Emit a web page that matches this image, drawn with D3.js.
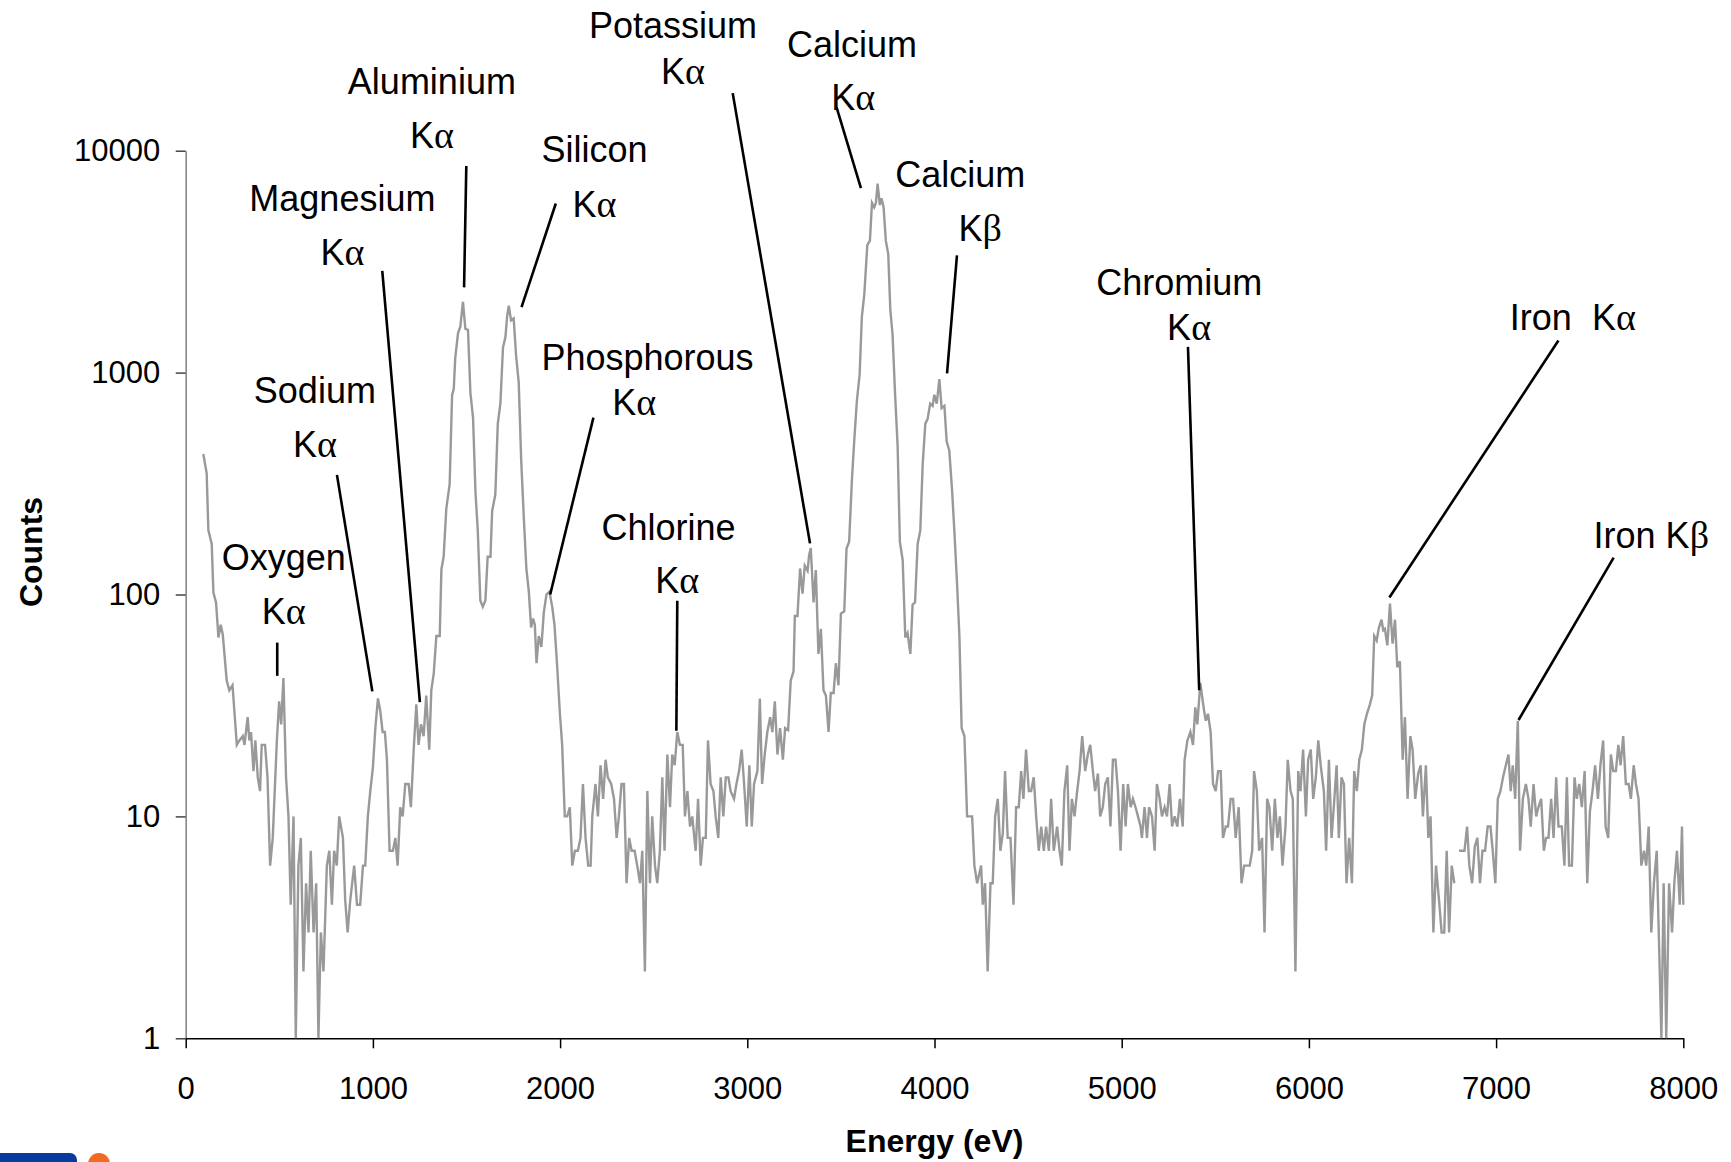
<!DOCTYPE html>
<html><head><meta charset="utf-8">
<script src="https://cdn.jsdelivr.net/npm/d3@7"></script>
<style>
body{margin:0;background:#fff}
svg{display:block}
</style></head><body>
<svg id="c" width="1731" height="1162"></svg>
<script>
// ---- data ----
const energyEV = [
94,112,121,139,148,162,175,187,198,219,
233,250,273,287,305,314,331,340,349,362,
372,385,397,406,424,437,451,465,487,499,
510,522,536,549,561,576,588,602,615,629,
643,656,668,683,697,709,722,736,754,767,
781,793,807,820,840,852,865,879,900,915,
932,947,959,973,986,1000,1013,1027,1039,1052,
1064,1075,1089,1107,1120,1132,1146,1159,1173,1191,
1203,1218,1232,1244,1257,1271,1285,1301,1312,1325,
1339,1357,1366,1378,1392,1410,1423,1432,1440,1455,
1467,1481,1494,1508,1521,1535,1548,1560,1574,1587,
1601,1613,1628,1637,1654,1667,1681,1695,1708,1717,
1726,1738,1752,1765,1779,1792,1806,1820,1833,1845,
1856,1865,1874,1886,1900,1913,1927,1943,1958,1970,
1984,1999,2011,2025,2038,2052,2065,2079,2095,2109,
2122,2136,2150,2163,2172,2189,2202,2216,2230,2243,
2255,2273,2288,2302,2314,2328,2341,2355,2369,2382,
2398,2412,2427,2439,2453,2466,2480,2492,2507,2519,
2533,2546,2558,2573,2587,2599,2612,2626,2640,2655,
2667,2680,2694,2706,2724,2737,2751,2763,2778,2790,
2804,2819,2831,2845,2858,2872,2885,2899,2911,2929,
2942,2956,2970,2983,2997,3011,3024,3036,3054,3067,
3079,3093,3107,3122,3134,3147,3161,3175,3190,3202,
3218,3232,3247,3254,3268,3282,3295,3307,3322,3330,
3339,3354,3366,3380,3393,3407,3420,3434,3446,3461,
3473,3487,3500,3518,3530,3544,3559,3571,3585,3600,
3612,3625,3641,3655,3666,3678,3687,3696,3708,3717,
3728,3740,3753,3764,3776,3789,3803,3815,3830,3844,
3856,3871,3883,3896,3910,3924,3937,3951,3963,3977,
3990,3999,4012,4026,4038,4053,4065,4079,4094,4106,
4120,4133,4145,4160,4174,4201,4213,4228,4249,4258,
4270,4284,4299,4311,4324,4338,4352,4365,4377,4391,
4406,4422,4436,4450,4463,4475,4489,4504,4516,4530,
4543,4557,4570,4584,4596,4611,4623,4637,4655,4668,
4680,4694,4709,4721,4734,4748,4762,4775,4789,4805,
4819,4832,4846,4858,4873,4885,4899,4912,4926,4940,
4953,4967,4980,4994,5008,5021,5033,5048,5060,5074,
5087,5101,5108,5122,5135,5146,5162,5176,5188,5203,
5215,5229,5242,5256,5269,5283,5297,5311,5326,5336,
5351,5367,5381,5393,5404,5420,5429,5440,5449,5461,
5475,5488,5502,5515,5529,5541,5556,5568,5582,5595,
5609,5625,5640,5654,5670,5684,5697,5707,5722,5734,
5750,5763,5777,5789,5804,5818,5832,5845,5859,5875,
5887,5902,5914,5928,5943,5955,5969,5984,5996,6010,
6023,6037,6050,6064,6080,6092,6107,6121,6133,6148,
6160,6174,6187,6201,6215,6230,6242,6256,6269,6283,
6296,6310,6326,6338,6349,6362,6374,6388,6397,6406,
6419,6433,6447,6460,6472,6486,6501,6513,6527,6542,
6554,6568,6584,6597,6609,6625,6638,6650,6665,6679,
6695,6709,6723,6736,6749,6763,6777,6790,6802,6816,
6831,6845,6857,6872,6886,6900,6914,6927,6941,6955,
6970,6982,6996,7009,7023,7037,7052,7066,7078,7089,
7102,7116,7128,7143,7159,7173,7185,7200,7214,7226,
7241,7255,7267,7280,7294,7307,7321,7333,7351,7365,
7378,7390,7405,7419,7431,7444,7458,7473,7487,7501,
7515,7529,7544,7558,7572,7585,7599,7613,7626,7640,
7653,7665,7679,7693,7708,7720,7735,7747,7761,7776,
7790,7802,7815,7829,7843,7858,7883,7895,7909,7924,
7940,7952,7966,7981,7993,8000];

const counts = [
430,352,195,169,102,92,64,73,66,41,
37,39,21,22,23,21,28,22,24,16,
22,15,13,21,21,15,6,8,22,33,
26,42,15,10,4,10,1,6,8,2,
5,3,7,3,5,1,3,2,6,7,
4,7,6,10,8,4.2,3,4.2,6,4,
4,6,6,10,13,16.6,25,34,30,24,
24,18,7,7,8,6,11,10,14,14,
11,20,32,21,26,23,35,20,37,44,
65,65,130,148,243,314,792,845,1167,1510,
1610,2085,1578,1556,809,625,288,196,94,88,
94,148,148,238,282,586,727,1300,1447,1794,
2000,1720,1754,1191,901,407,223,130,103,71,
78,73,49,65,58,83,100,103,88,73,
48,29,21,10,10,11,6,7,7,8,
14,8,6,6,10,14,10,17,12,18,
15,14,12,8,10,14,14,5,8,7,
7,6,5,7,2,13,5,10,6,5,
7,15,7,19,11,19,17,24,21,21,
10,13,9,10,7,12,6,8,8,22,
14,13,10,8,15,10,15,15,13,12,
14,16,20,14,9,17,9,14,16,34,
14,19,24,28,24,33,19,25,18,25,
24.5,41,45,80,80,131,101,135,128,150,
162,92,129,54,70,37,35,24,36,36,
49,39,82,84,161,173,330,489,741,979,
1788,2253,3750,3930,5820,5560,5820,7100,5690,6100,
5560,3930,3420,1915,1485,813,467,173,143,64,
67,54,90,92,169,194,388,589,617,725,
708,795,725,935,692,708,489,446,294,194,
114,65,25,23,10,10,6,5,6,4,
5,2,5,5,10,12,7,8.4,16,8,
8,4,11,11,16,12,20,13,13,15,
10,7,9,7,9,7,12,7,9,7,
6,13,17,7,12,10,13,16,23,16,
19,21,16,13,15.6,10,11,14,15,9,
18,18,13,7,14,9,14,11,12,11,
10,9,8,11,8,11,10,7,14,12,
10,11,10,14,9,10,9,12,9,18,
22,24,21,31,26,40,35,30,27,29,
24,14,13,16,16,8,9,9,12,12,
8,11,5,6,6,6,7,16,13,7,
8,3,12,11,7,12,8,10,6,9,
18,13,12,2,16,13,20,10,18,20,
12,15,22,16.7,13,7,18,8,11,17,
8,15,14,5,8,5,16,13,18,20,
26,29,32,35,65,62,71,77,69,70,
59,91,60,77,47,50,18,28,12,23,
20,12,15.6,17,10,17,8,10,3,6,
4.2,3,3,7,3,6,5,null,7,7,
7,9,6,5,7.3,8,5,7,7,9,
9,7,5,12,13,15,17,19,13,17,
12,27,7,12,14,12,9,14,10,11,
12,7,8,8,12,8,15,9,9,6,
15,6,6,15,12,14,11,16,5,10.5,
13,17,12,17.3,22,9,8,19,16,16,
21,17,23,14,14,12,17,14,12,6,
7,6,9,3,5,7,1,5,1,5,
3,5,7,4,9,4];

const xTicks = [0,1000,2000,3000,4000,5000,6000,7000,8000];
const yTicks = [1,10,100,1000,10000];
const xTitle = "Energy (eV)";
const yTitle = "Counts";

// label text lines: [text, energy (eV), counts]
const labelLines = [
  ["Potassium",2603,36980],["Kα",2656,22850],
  ["Calcium",3559,30400],["Kα",3566,17370],
  ["Aluminium",1315,20600],["Kα",1315,11750],
  ["Silicon",2184,10140],["Kα",2184,5780],
  ["Magnesium",837,6120],["Kα",837,3493],
  ["Calcium",4138,7870],["Kβ",4244,4496],
  ["Phosphorous",2467,1177],["Kα",2396,736],
  ["Sodium",690,835],["Kα",690,476],
  ["Chromium",5307,2564],["Kα",5360,1603],
  ["Iron  Kα",7410,1778],
  ["Chlorine",2579,202],["Kα",2626,116],
  ["Oxygen",524,148],["Kα",524,84.5],
  ["Iron Kβ",7829,186]
];
// leader lines: [e1, c1, e2, c2]
const leaders = [
  [2922,18170,3335,170],
  [3477,15660,3607,6780],
  [1499,8530,1487,2422],
  [1977,5780,1794,1972],
  [1050,2875,1251,32.7],
  [4120,3375,4067,991],
  [2178,627,1947,100],
  [808,346,997,36.6],
  [5354,1306,5414,37],
  [7333,1396,6430,97],
  [2626,93.8,2621,24.3],
  [489,60.7,489,43],
  [7628,146.5,7120,27.2]
];

// ---- drawing ----
const SANS = '"Liberation Sans", Arial, Helvetica, sans-serif';
const SERIF = '"Liberation Serif", "Times New Roman", serif';
const svg = d3.select("#c");
const x = d3.scaleLinear().domain([0, 8000]).range([185.7, 1683.3]);
const y = d3.scaleLog().domain([1, 10000]).range([1038.3, 150.7]);

// y axis
const gy = svg.append("g")
  .attr("transform", `translate(${x(0)},0)`)
  .call(d3.axisLeft(y).tickValues(yTicks).tickFormat(d3.format("d"))
        .tickSize(10).tickSizeOuter(0).tickPadding(15.5))
  .attr("font-family", SANS).attr("font-size", 31);
gy.select(".domain").attr("stroke", "#888").attr("stroke-width", 1.6);
gy.selectAll(".tick line").attr("stroke", "#444").attr("stroke-width", 1.5);
gy.selectAll(".tick text").attr("fill", "#000");

// x axis
const gx = svg.append("g")
  .attr("transform", `translate(0,${y(1)})`)
  .call(d3.axisBottom(x).tickValues(xTicks).tickFormat(d3.format("d"))
        .tickSize(10).tickSizeOuter(0).tickPadding(29))
  .attr("font-family", SANS).attr("font-size", 31);
gx.select(".domain").attr("stroke", "#000").attr("stroke-width", 1.5);
gx.selectAll(".tick line").attr("stroke", "#000").attr("stroke-width", 1.5);
gx.selectAll(".tick text").attr("fill", "#000");

// spectrum
const pts = energyEV.map((e, i) => [e, counts[i]]);
const line = d3.line()
  .defined(d => d[1] != null && d[1] > 0)
  .x(d => x(d[0])).y(d => y(d[1]));
svg.append("path").datum(pts)
  .attr("d", line)
  .attr("fill", "none")
  .attr("stroke", "#999999")
  .attr("stroke-width", 2.4)
  .attr("stroke-linejoin", "miter");

// leader lines
svg.append("g").selectAll("line").data(leaders).join("line")
  .attr("x1", d => x(d[0])).attr("y1", d => y(d[1]))
  .attr("x2", d => x(d[2])).attr("y2", d => y(d[3]))
  .attr("stroke", "#000").attr("stroke-width", 2.6);

// label text
const lg = svg.append("g").attr("font-family", SANS).attr("font-size", 36)
  .attr("fill", "#000").attr("text-anchor", "middle");
labelLines.forEach(([t, e, c]) => {
  const txt = lg.append("text")
    .attr("x", x(e)).attr("y", y(c))
    .attr("dominant-baseline", "central")
    .style("white-space", "pre");
  const parts = t.split(/([αβ])/).filter(s => s.length);
  parts.forEach(p => {
    const ts = txt.append("tspan").text(p);
    if (p === "α" || p === "β") ts.attr("font-family", SERIF).attr("font-size", 38);
  });
});

// axis titles
svg.append("text")
  .attr("x", x(4000)).attr("y", 1152)
  .attr("text-anchor", "middle")
  .attr("font-family", SANS).attr("font-weight", "bold").attr("font-size", 32)
  .text(xTitle);
svg.append("text")
  .attr("transform", `translate(42,552) rotate(-90)`)
  .attr("text-anchor", "middle")
  .attr("font-family", SANS).attr("font-weight", "bold").attr("font-size", 32)
  .text(yTitle);

// logo fragment at bottom-left
const logo = svg.append("g");
logo.append("rect").attr("x", -10).attr("y", 1153).attr("width", 87).attr("height", 30)
  .attr("rx", 7).attr("fill", "#0b3a9e");
logo.append("circle").attr("cx", 99).attr("cy", 1164).attr("r", 11).attr("fill", "#f26a21");
</script>
</body></html>
